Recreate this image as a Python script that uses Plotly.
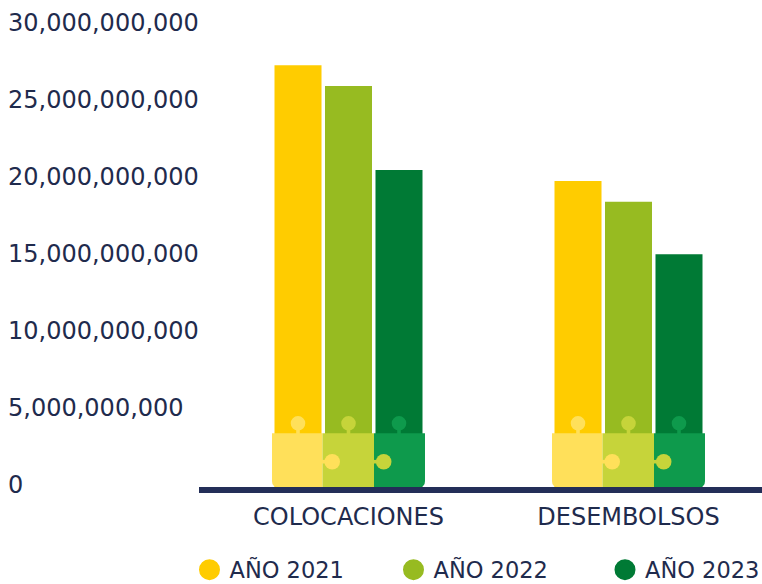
import plotly.graph_objects as go

# ---------------- data ----------------
categories = ["COLOCACIONES", "DESEMBOLSOS"]
series_names = ["AÑO 2021", "AÑO 2022", "AÑO 2023"]
values_2021 = [27.35e9, 19.85e9]
values_2022 = [26.0e9, 18.5e9]
values_2023 = [20.55e9, 15.1e9]
y_tick_values = [0, 5e9, 10e9, 15e9, 20e9, 25e9, 30e9]

# ---------------- styles ----------------
bar_colors = ["#FFCC00", "#97BB21", "#007A35"]
piece_colors = ["#FFE05A", "#C6D43A", "#0E9A4C"]
NAVY = "#232E58"
TEXT = "#1F2B4D"
FONT = "DejaVu Sans"

W, H = 762, 584
M_B = 97
X_LEFT = 199
LEGEND_SYMBOL_X = [209.5, 413.5, 625.0]
LEGEND_Y_PX = 570

legend_ids = ["legend", "legend2", "legend3"]

fig = go.Figure()
for name, vals, col in zip(series_names, [values_2021, values_2022, values_2023], bar_colors):
    fig.add_trace(go.Bar(x=categories, y=vals, name=name, marker=dict(color=col, line=dict(width=0)),
                         showlegend=False, hoverinfo="skip"))
# legend entries (round markers), one legend box per entry
for name, col, lid in zip(series_names, bar_colors, legend_ids):
    fig.add_trace(go.Scatter(x=[None], y=[None], mode="markers", name=name, legend=lid,
                             marker=dict(size=16, color=col, line=dict(color=col, width=5))))

# ---------------- puzzle decoration (pixel sized, anchored to categories) ----------------
EDGES = [-76.5, -26.0, 25.5, 76.5]
BASE_H = 53.7
CR = 6
TOP_KY, TOP_KR = 63.7, 7.3
SIDE_KY, SIDE_KR, SIDE_DX = 25.3, 7.8, 9.7
PIECE_CENTERS = [-50.5, 0.0, 50.5]

shapes = []
def pshape(cat, **kw):
    d = dict(xref="x", yref="y", xsizemode="pixel", ysizemode="pixel", xanchor=cat, yanchor=0,
             layer="above", line=dict(width=0))
    d.update(kw)
    return d

for ci in range(len(categories)):
    x0, x1, x2, x3 = EDGES
    shapes.append(pshape(ci, type="path", fillcolor=piece_colors[0],
                         path=f"M{x0},{BASE_H} L{x1},{BASE_H} L{x1},0 L{x0 + CR},0 Q{x0},0 {x0},{CR} Z"))
    shapes.append(pshape(ci, type="rect", fillcolor=piece_colors[1], x0=x1, x1=x2, y0=0, y1=BASE_H))
    shapes.append(pshape(ci, type="path", fillcolor=piece_colors[2],
                         path=f"M{x2},{BASE_H} L{x3},{BASE_H} L{x3},{CR} Q{x3},0 {x3 - CR},0 L{x2},0 Z"))
    # top knobs
    for k in range(3):
        cx = PIECE_CENTERS[k]
        shapes.append(pshape(ci, type="rect", fillcolor=piece_colors[k], x0=cx - 1.8, x1=cx + 1.8,
                             y0=BASE_H - 1, y1=TOP_KY))
        shapes.append(pshape(ci, type="circle", fillcolor=piece_colors[k], x0=cx - TOP_KR, x1=cx + TOP_KR,
                             y0=TOP_KY - TOP_KR, y1=TOP_KY + TOP_KR))
    # side knobs
    for k, edge in enumerate([x1, x2]):
        cx = edge + SIDE_DX
        shapes.append(pshape(ci, type="rect", fillcolor=piece_colors[k], x0=edge - 1, x1=cx,
                             y0=SIDE_KY - 1.8, y1=SIDE_KY + 1.8))
        shapes.append(pshape(ci, type="circle", fillcolor=piece_colors[k], x0=cx - SIDE_KR, x1=cx + SIDE_KR,
                             y0=SIDE_KY - SIDE_KR, y1=SIDE_KY + SIDE_KR))

px_per_cat = 280.0
plot_w = W - X_LEFT
cat0_px = 348.5
x_lo = -(cat0_px - X_LEFT) / px_per_cat
x_hi = x_lo + plot_w / px_per_cat
px_per_unit = 15.42 / 1e9
y_hi = (H - M_B) / px_per_unit

legend_layout = {}
for lid, sx in zip(legend_ids, LEGEND_SYMBOL_X):
    legend_layout[lid] = dict(orientation="h", x=(sx - 20) / W, xanchor="left",
                              y=(H - M_B - LEGEND_Y_PX) / (H - M_B), yanchor="middle",
                              font=dict(family=FONT, size=22.5, color=TEXT),
                              bgcolor="rgba(0,0,0,0)")

fig.update_layout(
    width=W, height=H,
    margin=dict(l=0, r=0, t=0, b=M_B, autoexpand=False),
    paper_bgcolor="white", plot_bgcolor="white",
    font=dict(family=FONT, color=TEXT, size=22.5),
    barmode="group", bargap=0.459, bargroupgap=0.069,
    shapes=shapes,
    xaxis=dict(domain=[X_LEFT / W, 1], type="category", range=[x_lo, x_hi],
               showline=True, linewidth=6, linecolor=NAVY, ticks="", showgrid=False, zeroline=False,
               tickfont=dict(family=FONT, size=24, color=TEXT), ticklabelstandoff=3),
    yaxis=dict(anchor="free", position=0, range=[0, y_hi], tickvals=y_tick_values, tickformat=",",
               ticklabelposition="inside", ticklabeloverflow="allow", ticklabelstandoff=4,
               ticklabelshift=-2, showgrid=False, zeroline=False, showline=False, ticks="",
               tickfont=dict(family=FONT, size=24, color=TEXT)),
    showlegend=True,
    **legend_layout,
)

fig.write_html("out.html", config={"displayModeBar": False},
               post_script="document.documentElement.style.margin='0';document.body.style.margin='0';"
                           "document.body.style.overflow='hidden';")
